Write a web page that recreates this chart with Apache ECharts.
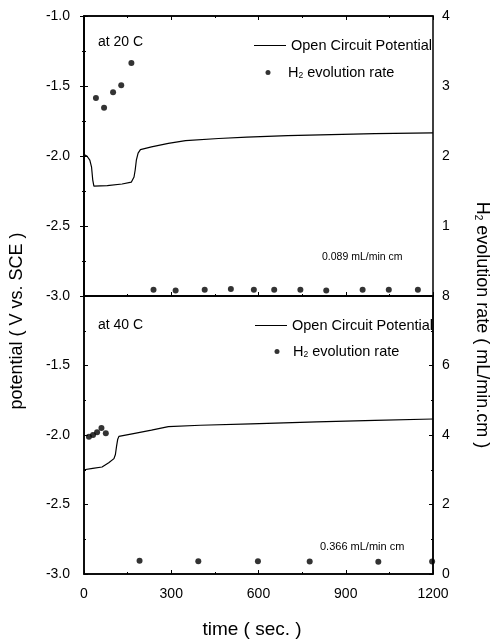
<!DOCTYPE html>
<html>
<head>
<meta charset="utf-8">
<script src="https://cdn.jsdelivr.net/npm/echarts@6/dist/echarts.min.js"></script>
<style>
  html, body { margin: 0; padding: 0; background: #fff; }
  #chart { width: 493px; height: 642px; }
</style>
</head>
<body>
<div id="chart"></div>
<script>
// Open circuit potential at 20 C (time in s, potential in V vs. SCE)
const ocp20Time = [0, 10, 20, 26, 30, 34, 80, 131, 163, 172, 176, 180, 186, 194, 232, 290, 349, 463, 560, 700, 850, 1000, 1200];
const ocp20 = [-1.99, -2.0, -2.03, -2.08, -2.17, -2.215, -2.212, -2.2, -2.186, -2.15, -2.1, -2.03, -1.98, -1.955, -1.935, -1.91, -1.89, -1.875, -1.865, -1.855, -1.847, -1.84, -1.835];

// H2 evolution rate at 20 C (mL/min.cm)
const h2Time20 = [41, 69, 100, 128, 163, 239, 315, 415, 505, 584, 654, 744, 833, 958, 1048, 1148];
const h2Rate20 = [2.83, 2.69, 2.91, 3.01, 3.33, 0.09, 0.08, 0.09, 0.1, 0.09, 0.09, 0.09, 0.08, 0.09, 0.09, 0.09];

// Open circuit potential at 40 C
const ocp40Time = [0, 30, 62, 85, 103, 108, 112, 116, 120, 170, 232, 290, 400, 574, 800, 1000, 1200];
const ocp40 = [-2.25, -2.24, -2.23, -2.2, -2.17, -2.14, -2.08, -2.03, -2.01, -1.99, -1.965, -1.94, -1.93, -1.92, -1.905, -1.895, -1.885];

// H2 evolution rate at 40 C
const h2Time40 = [17, 31, 45, 60, 75, 191, 393, 598, 776, 1012, 1197];
const h2Rate40 = [3.95, 4.0, 4.08, 4.2, 4.05, 0.38, 0.37, 0.37, 0.36, 0.35, 0.36];

const timeRange = [0, 1200];
const timeStep = 300;
const potentialRange = [-3.0, -1.0];
const potentialStep = 0.5;
const rate20Range = [0, 4];
const rate40Range = [0, 8];

const panelNotes = ['at 20 C', 'at 40 C'];
const rateNotes = ['0.089 mL/min cm', '0.366 mL/min cm'];

const FONT = '"Liberation Sans", Arial, Helvetica, sans-serif';
const INK = '#000';

const zip = (xs, ys) => xs.map((x, i) => [x, ys[i]]);

const axisLine = { show: true, lineStyle: { color: INK, width: 1.5 } };
const tick = { show: true, inside: true, length: 4, lineStyle: { color: INK, width: 1 } };
const minor = { show: true, splitNumber: 2, length: 2, lineStyle: { color: INK, width: 1 } };
const label = { color: INK, fontSize: 14, fontFamily: FONT };

function timeAxis(gridIndex, position, showLabel) {
  return {
    type: 'value', gridIndex, position,
    min: timeRange[0], max: timeRange[1], interval: timeStep,
    axisLine, axisTick: tick, minorTick: minor,
    splitLine: { show: false },
    axisLabel: Object.assign({ show: showLabel, margin: 13, formatter: v => String(v) }, label)
  };
}

function potentialAxis(gridIndex, showMax) {
  return {
    type: 'value', gridIndex, position: 'left',
    min: potentialRange[0], max: potentialRange[1], interval: potentialStep,
    axisLine, axisTick: tick, minorTick: minor,
    splitLine: { show: false },
    axisLabel: Object.assign({ margin: 14, showMaxLabel: showMax, formatter: v => v.toFixed(1) }, label)
  };
}

function rateAxis(gridIndex, range, step, showMin) {
  return {
    type: 'value', gridIndex, position: 'right',
    min: range[0], max: range[1], interval: step,
    axisLine, axisTick: tick, minorTick: minor,
    splitLine: { show: false },
    axisLabel: Object.assign({ margin: 9, showMinLabel: showMin, formatter: v => String(v) }, label)
  };
}

const legendText = { color: INK, fontSize: 14.5, fontFamily: FONT,
  rich: { s: { fontSize: 8.5, fontFamily: FONT, color: INK, verticalAlign: 'bottom', padding: [5, 0, 0, 0] } } };

function ocpLegend(left, top) {
  return { left, top, padding: 0, selectedMode: false, itemWidth: 32, itemHeight: 1,
    data: [{ name: 'Open Circuit Potential', icon: 'rect' }],
    itemStyle: { color: INK }, textStyle: legendText };
}
function h2Legend(left, top, width) {
  return { left, top, padding: 0, selectedMode: false, itemWidth: width, itemHeight: 5,
    data: [{ name: 'H2 evolution rate', icon: 'circle' }],
    formatter: () => 'H{s|2} evolution rate', textStyle: legendText };
}

function note(text, x, y, size) {
  return { type: 'text', x, y, silent: true,
    style: { text, fill: INK, fontSize: size, fontFamily: FONT, verticalAlign: 'middle' } };
}

const chart = echarts.init(document.getElementById('chart'), null, { renderer: 'canvas' });

chart.setOption({
  backgroundColor: '#fff',
  animation: false,
  grid: [
    { left: 84, right: 60, top: 16, height: 280, show: true, borderColor: INK, borderWidth: 1.5, backgroundColor: 'transparent' },
    { left: 84, right: 60, top: 296, height: 278, show: true, borderColor: INK, borderWidth: 1.5, backgroundColor: 'transparent' }
  ],
  xAxis: [
    timeAxis(0, 'bottom', false),
    timeAxis(0, 'top', false),
    timeAxis(1, 'bottom', true)
  ],
  yAxis: [
    potentialAxis(0, true),
    rateAxis(0, rate20Range, 1, false),
    potentialAxis(1, false),
    rateAxis(1, rate40Range, 2, true)
  ],
  legend: [
    ocpLegend(254, 38),
    h2Legend(265.5, 65, 30),
    ocpLegend(255, 318),
    h2Legend(274.5, 344, 22)
  ],
  series: [
    { name: 'Open Circuit Potential', type: 'line', xAxisIndex: 0, yAxisIndex: 0,
      data: zip(ocp20Time, ocp20), symbol: 'none', smooth: false,
      lineStyle: { color: INK, width: 1.2 }, itemStyle: { color: INK } },
    { name: 'H2 evolution rate', type: 'scatter', xAxisIndex: 0, yAxisIndex: 1,
      data: zip(h2Time20, h2Rate20), symbol: 'circle', symbolSize: 6,
      itemStyle: { color: INK } },
    { name: 'Open Circuit Potential', type: 'line', xAxisIndex: 2, yAxisIndex: 2,
      data: zip(ocp40Time, ocp40), symbol: 'none', smooth: false,
      lineStyle: { color: INK, width: 1.2 }, itemStyle: { color: INK } },
    { name: 'H2 evolution rate', type: 'scatter', xAxisIndex: 2, yAxisIndex: 3,
      data: zip(h2Time40, h2Rate40), symbol: 'circle', symbolSize: 6,
      itemStyle: { color: INK } }
  ],
  graphic: [
    note(panelNotes[0], 98, 42, 14),
    note(panelNotes[1], 98, 325, 14),
    note(rateNotes[0], 322, 257, 10.5),
    note(rateNotes[1], 320, 547, 11),
    { type: 'text', x: 17, y: 321, rotation: Math.PI / 2, silent: true,
      style: { text: 'potential ( V vs. SCE )', fill: INK, fontSize: 18, fontFamily: FONT,
        align: 'center', verticalAlign: 'middle' } },
    { type: 'text', x: 482, y: 325, rotation: -Math.PI / 2, silent: true,
      style: { text: 'H{s|2} evolution rate ( mL/min.cm )', fill: INK, fontSize: 18, fontFamily: FONT,
        align: 'center', verticalAlign: 'middle',
        rich: { s: { fontSize: 10, fontFamily: FONT, fill: INK, verticalAlign: 'bottom', padding: [7, 0, 0, 0] } } } },
    { type: 'text', x: 252, y: 630, silent: true,
      style: { text: 'time ( sec. )', fill: INK, fontSize: 19, fontFamily: FONT,
        align: 'center', verticalAlign: 'middle' } }
  ]
});
</script>
</body>
</html>
